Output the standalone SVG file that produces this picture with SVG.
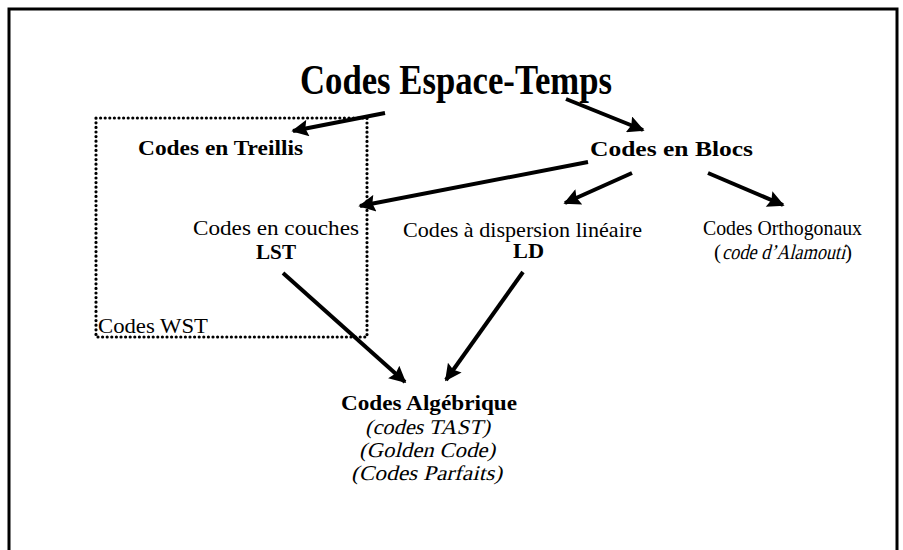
<svg xmlns="http://www.w3.org/2000/svg" width="903" height="550" viewBox="0 0 903 550">
<defs>
<marker id="ah" viewBox="0 0 10 10" refX="9" refY="5" markerWidth="5" markerHeight="4.2" markerUnits="strokeWidth" orient="auto">
<path d="M0,0 L10,5 L0,10 L1.5,5 z" fill="#000"/>
</marker>
<style>
text{font-family:"Liberation Serif","Times New Roman",serif;fill:#000}
.b{font-weight:bold}
.t{font-size:43px}
.h{font-size:20px}
.r{font-size:21px}
.c{stroke:#000;stroke-width:4;fill:none;marker-end:url(#ah)}
</style>
</defs>
<rect width="903" height="550" fill="#fff"/>
<rect x="9" y="9" width="888" height="560" fill="none" stroke="#000" stroke-width="3"/>
<rect x="96" y="118" width="271" height="219" fill="none" stroke="#000" stroke-width="3.2" stroke-dasharray="0 4.6" stroke-linecap="round"/>
<g id="title"><text class="b t" x="300" y="94" textLength="312" lengthAdjust="spacingAndGlyphs">Codes Espace-Temps</text></g>
<g id="treillis"><text class="b h" x="138" y="155" textLength="165" lengthAdjust="spacingAndGlyphs">Codes en Treillis</text></g>
<g id="blocs"><text class="b h" x="590" y="156" textLength="163" lengthAdjust="spacingAndGlyphs">Codes en Blocs</text></g>
<g id="lst"><text class="r" x="193" y="235" textLength="166" lengthAdjust="spacingAndGlyphs">Codes en couches</text><text class="b h" x="256" y="259" textLength="40" lengthAdjust="spacingAndGlyphs">LST</text></g>
<g id="ld"><text class="r" x="403" y="237" textLength="239" lengthAdjust="spacingAndGlyphs">Codes à dispersion linéaire</text><text class="b h" x="513" y="258" textLength="31" lengthAdjust="spacingAndGlyphs">LD</text></g>
<g id="ortho"><text class="r" x="703" y="235" textLength="159" lengthAdjust="spacingAndGlyphs">Codes Orthogonaux</text>
<text class="r" x="714" y="259">(</text>
<text class="r" transform="translate(722,259) skewX(-14)" textLength="123" lengthAdjust="spacingAndGlyphs">code d’Alamouti</text>
<text class="r" x="845" y="259">)</text></g>
<g id="wst"><text class="r" x="98" y="333" textLength="110" lengthAdjust="spacingAndGlyphs">Codes WST</text></g>
<g id="alg"><text class="b h" x="341" y="410" textLength="176" lengthAdjust="spacingAndGlyphs">Codes Algébrique</text>
<text class="r" transform="translate(365,434) skewX(-14)" textLength="125" lengthAdjust="spacingAndGlyphs">(codes TAST)</text>
<text class="r" transform="translate(359,457) skewX(-14)" textLength="136" lengthAdjust="spacingAndGlyphs">(Golden Code)</text>
<text class="r" transform="translate(351,480) skewX(-14)" textLength="151" lengthAdjust="spacingAndGlyphs">(Codes Parfaits)</text></g>
<g id="connectors">
<line class="c" x1="385" y1="113" x2="293" y2="131"/>
<line class="c" x1="566" y1="99" x2="643" y2="130"/>
<line class="c" x1="588" y1="162" x2="360" y2="206"/>
<line class="c" x1="632" y1="173" x2="565" y2="203"/>
<line class="c" x1="708" y1="173" x2="783" y2="205"/>
<line class="c" x1="283" y1="273" x2="405" y2="382"/>
<line class="c" x1="523" y1="272" x2="446" y2="380"/>
</g>
</svg>
